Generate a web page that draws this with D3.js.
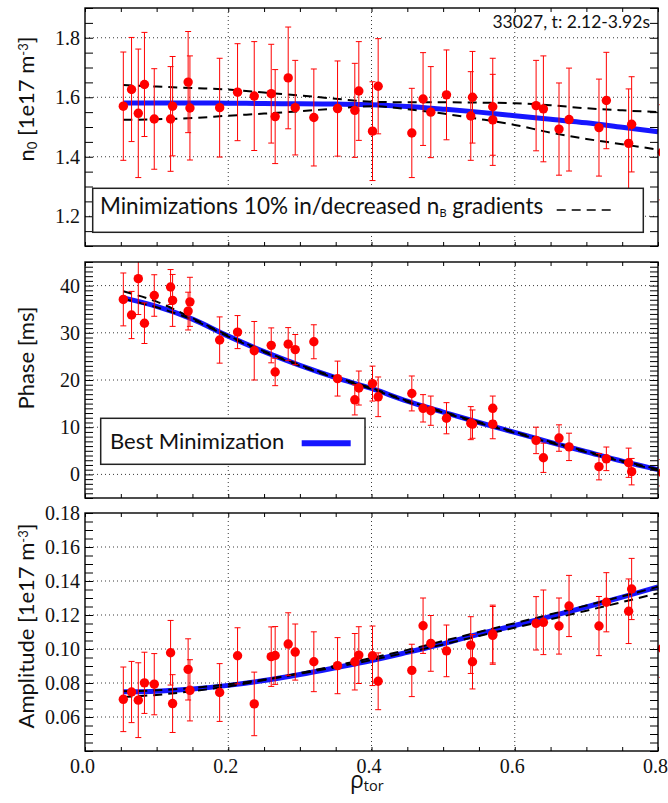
<!DOCTYPE html>
<html>
<head>
<meta charset="utf-8">
<script src="https://cdn.jsdelivr.net/npm/d3@7"></script>
<style>
  html, body { margin: 0; padding: 0; background: #fff; }
  svg { display: block; }
</style>
</head>
<body>
<svg id="chart" width="668" height="803"></svg>
<script>
// Radial positions of the measurement channels (rho_tor)
const rho = [0.0535, 0.065, 0.0744, 0.083, 0.0967, 0.1195, 0.1223, 0.144, 0.1465, 0.188,
             0.213, 0.2363, 0.26, 0.2655, 0.2837, 0.2935, 0.3195, 0.3526, 0.3767, 0.3823,
             0.4014, 0.4093, 0.4563, 0.472, 0.4828, 0.5047, 0.5386, 0.541, 0.5693, 0.5693,
             0.6298, 0.640, 0.6618, 0.6758, 0.7176, 0.7279, 0.759, 0.7632, 0.806];

// Background density n0 [1e17 m^-3] and its uncertainty
const n0 = [1.570, 1.626, 1.546, 1.643, 1.527, 1.527, 1.570, 1.651, 1.564, 1.565,
            1.617, 1.604, 1.612, 1.535, 1.665, 1.565, 1.532, 1.562, 1.556, 1.621,
            1.486, 1.637, 1.480, 1.594, 1.550, 1.608, 1.537, 1.600, 1.568, 1.524,
            1.572, 1.561, 1.493, 1.525, 1.498, 1.589, 1.445, 1.509, 1.415];
const n0Err = [0.182, 0.175, 0.216, 0.175, 0.169, 0.176, 0.167, 0.170, 0.175, 0.166,
               0.163, 0.183, 0.166, 0.158, 0.171, 0.159, 0.163, 0.160, 0.158, 0.166,
               0.166, 0.160, 0.150, 0.156, 0.153, 0.151, 0.149, 0.154, 0.163, 0.153,
               0.152, 0.178, 0.155, 0.173, 0.163, 0.162, 0.183, 0.160, 0.160];

// Phase [ms] and its uncertainty
const phase = [37.07, 33.77, 41.47, 32.03, 37.9, 39.7, 36.86, 34.6, 36.56, 28.47,
               30.15, 26.2, 27.34, 21.7, 27.6, 26.44, 28.1, 20.3, 15.8, 18.3,
               19.24, 16.44, 17.15, 14.0, 13.5, 11.9, 10.86, 10.65, 14.0, 10.65,
               7.2, 3.52, 7.7, 5.83, 1.64, 3.3, 2.47, 0.58, 0.35];
const phaseErr = [5.6, 5.0, 7.6, 4.3, 4.4, 3.7, 5.5, 4.0, 5.2, 4.9,
                  3.5, 6.2, 3.7, 2.9, 3.5, 3.2, 3.6, 3.7, 3.2, 3.6,
                  3.7, 4.2, 3.7, 2.9, 3.1, 3.3, 3.5, 3.0, 2.6, 3.1,
                  2.8, 3.1, 2.8, 2.9, 2.8, 2.5, 3.1, 2.8, 2.8];

// Perturbation amplitude [1e17 m^-3] and its uncertainty
const amp = [0.0704, 0.0747, 0.0699, 0.0801, 0.0793, 0.0978, 0.0679, 0.0880, 0.0757, 0.0744,
             0.0960, 0.0677, 0.0955, 0.0962, 0.1029, 0.0982, 0.0925, 0.0902, 0.0925, 0.0964,
             0.0960, 0.0810, 0.0874, 0.1137, 0.1033, 0.0989, 0.1023, 0.0925, 0.1088, 0.1080,
             0.1151, 0.1157, 0.1135, 0.1253, 0.1135, 0.1275, 0.1222, 0.1353, 0.1003];
const ampErr = [0.019, 0.018, 0.022, 0.018, 0.018, 0.019, 0.017, 0.018, 0.018, 0.017,
                0.0165, 0.0187, 0.0175, 0.017, 0.0184, 0.0165, 0.0176, 0.0165, 0.0166, 0.0167,
                0.0175, 0.0167, 0.0154, 0.0163, 0.0164, 0.0152, 0.0167, 0.016, 0.017, 0.017,
                0.0157, 0.019, 0.0165, 0.018, 0.0174, 0.0174, 0.019, 0.018, 0.017];

// Minimization results on a common rho grid
const fitRho = [0.0535, 0.1, 0.15, 0.2, 0.25, 0.3, 0.35, 0.4, 0.45, 0.5, 0.55, 0.6, 0.65, 0.7, 0.75, 0.8];
const n0Best   = [1.581, 1.581, 1.581, 1.580, 1.579, 1.578, 1.577, 1.575, 1.569, 1.560, 1.550, 1.538, 1.526, 1.514, 1.499, 1.484];
const n0Plus   = [1.641, 1.636, 1.631, 1.626, 1.616, 1.606, 1.595, 1.585, 1.583, 1.583, 1.582, 1.580, 1.573, 1.563, 1.556, 1.550];
const n0Minus  = [1.524, 1.526, 1.530, 1.538, 1.545, 1.553, 1.562, 1.570, 1.560, 1.545, 1.527, 1.507, 1.481, 1.460, 1.442, 1.424];
const phaseBest  = [37.4, 35.6, 32.9, 29.3, 26.0, 23.1, 20.5, 18.2, 15.5, 13.2, 11.0, 8.9, 6.8, 4.8, 2.8, 1.0];
const phasePlus  = [38.8, 36.6, 33.1, 29.4, 26.1, 23.2, 20.6, 18.3, 15.6, 13.3, 11.1, 9.0, 6.9, 4.9, 2.9, 1.1];
const phaseMinus = [37.2, 35.4, 32.8, 29.2, 25.9, 23.0, 20.4, 18.1, 15.4, 13.1, 10.9, 8.8, 6.7, 4.7, 2.7, 0.9];
const ampBest  = [0.0748, 0.0752, 0.0765, 0.0786, 0.0815, 0.0850, 0.0890, 0.0932, 0.0980, 0.1030, 0.1088, 0.1138, 0.1192, 0.1247, 0.1305, 0.1366];
const ampPlus  = [0.0718, 0.0730, 0.0752, 0.0780, 0.0817, 0.0858, 0.0902, 0.0947, 0.0995, 0.1047, 0.1100, 0.1152, 0.1204, 0.1256, 0.1310, 0.1366];
const ampMinus = [0.0752, 0.0757, 0.0771, 0.0792, 0.0820, 0.0855, 0.0893, 0.0935, 0.0980, 0.1027, 0.1077, 0.1125, 0.1175, 0.1225, 0.1276, 0.1328];

// Tick values
const xMinorTicks = d3.range(17).map(i => +(i * 0.05).toFixed(2));
const xLabelTicks = [0.0, 0.2, 0.4, 0.6, 0.8];
const xGridTicks  = [0.2, 0.4, 0.6];
const n0Ticks    = [1.2, 1.4, 1.6, 1.8];
const phaseTicks = [0, 10, 20, 30, 40];
const ampTicks   = [0.06, 0.08, 0.10, 0.12, 0.14, 0.16, 0.18];

const svg = d3.select("#chart");
const serif = "'Liberation Serif', 'Times New Roman', Times, serif";
const sans = "Lato, 'Open Sans', 'DejaVu Sans', sans-serif";
const BLUE = "#1616ff";
const RED = "#ff0000";

const x = d3.scaleLinear().domain([0, 0.8]).range([85, 658]);

const panels = [
  { id: "n0", top: 8, bottom: 246, domain: [1.1, 1.9],
    minor: d3.range(17).map(i => +(1.1 + i * 0.05).toFixed(2)),
    major: n0Ticks, fmt: d3.format(".1f"),
    vals: n0, errs: n0Err, best: n0Best, alts: [n0Plus, n0Minus] },
  { id: "phase", top: 262, bottom: 498, domain: [-5, 45],
    minor: d3.range(51).map(i => i - 5),
    major: phaseTicks, fmt: d3.format("d"),
    vals: phase, errs: phaseErr, best: phaseBest, alts: [phasePlus, phaseMinus] },
  { id: "amp", top: 513, bottom: 751, domain: [0.04, 0.18],
    minor: d3.range(29).map(i => +(0.04 + i * 0.005).toFixed(3)),
    major: ampTicks, fmt: d3.format(".2f"),
    vals: amp, errs: ampErr, best: ampBest, alts: [ampPlus, ampMinus], xLabels: true }
];

panels.forEach(p => {
  const y = d3.scaleLinear().domain(p.domain).range([p.bottom, p.top]);
  const g = svg.append("g").attr("class", "panel-" + p.id);

  g.append("clipPath").attr("id", "clip-" + p.id)
    .append("rect").attr("x", 85).attr("y", p.top)
    .attr("width", 575).attr("height", p.bottom - p.top);

  // dotted grid
  const grid = g.append("g").attr("stroke", "#3a3a3a").attr("stroke-width", 1)
    .attr("stroke-dasharray", "1,3");
  grid.selectAll("line.h").data(p.major.filter(v => y(v) > p.top + 1 && y(v) < p.bottom - 1))
    .join("line").attr("class", "h")
    .attr("x1", 85).attr("x2", 658).attr("y1", d => y(d)).attr("y2", d => y(d));
  grid.selectAll("line.v").data(xGridTicks).join("line").attr("class", "v")
    .attr("x1", d => x(d)).attr("x2", d => x(d)).attr("y1", p.top).attr("y2", p.bottom);

  const plot = g.append("g").attr("clip-path", `url(#clip-${p.id})`);

  // minimization curves
  const line = d3.line().x(d => x(d[0])).y(d => y(d[1])).curve(d3.curveMonotoneX);
  plot.append("path").datum(fitRho.map((r, i) => [r, p.best[i]]))
    .attr("d", line).attr("fill", "none").attr("stroke", BLUE).attr("stroke-width", 5);
  p.alts.forEach(a => {
    plot.append("path").datum(fitRho.map((r, i) => [r, a[i]]))
      .attr("d", line).attr("fill", "none").attr("stroke", "#000")
      .attr("stroke-width", 2).attr("stroke-dasharray", "9,6");
  });

  // error bars
  const eb = plot.append("g").attr("stroke", RED).attr("stroke-width", 1);
  const idx = d3.range(rho.length);
  eb.selectAll("line.bar").data(idx).join("line").attr("class", "bar")
    .attr("x1", i => x(rho[i])).attr("x2", i => x(rho[i]))
    .attr("y1", i => y(p.vals[i] - p.errs[i])).attr("y2", i => y(p.vals[i] + p.errs[i]));
  [-1, 1].forEach(s => {
    eb.selectAll("line.cap" + (s > 0 ? "u" : "d")).data(idx).join("line")
      .attr("class", "cap" + (s > 0 ? "u" : "d"))
      .attr("x1", i => x(rho[i]) - 3).attr("x2", i => x(rho[i]) + 3)
      .attr("y1", i => y(p.vals[i] + s * p.errs[i])).attr("y2", i => y(p.vals[i] + s * p.errs[i]));
  });

  // data points
  plot.selectAll("circle").data(idx).join("circle")
    .attr("cx", i => x(rho[i])).attr("cy", i => y(p.vals[i])).attr("r", 4.7).attr("fill", RED);

  // axes with inward ticks on all four sides
  const isMajor = d => p.major.some(m => Math.abs(m - d) < 1e-9);
  const left = g.append("g").attr("transform", "translate(85,0)")
    .call(d3.axisLeft(y).tickValues(p.minor).tickSizeInner(-8).tickSizeOuter(0)
      .tickPadding(5).tickFormat(d => isMajor(d) ? p.fmt(d) : ""));
  const right = g.append("g").attr("transform", "translate(658,0)")
    .call(d3.axisRight(y).tickValues(p.minor).tickSizeInner(-8).tickSizeOuter(0).tickFormat(""));
  const topAx = g.append("g").attr("transform", `translate(0,${p.top})`)
    .call(d3.axisTop(x).tickValues(xMinorTicks).tickSizeInner(-4).tickSizeOuter(0).tickFormat(""));
  const botAx = g.append("g").attr("transform", `translate(0,${p.bottom})`)
    .call(d3.axisBottom(x).tickValues(xMinorTicks).tickSizeInner(-4).tickSizeOuter(0).tickPadding(8)
      .tickFormat(d => p.xLabels && xLabelTicks.some(m => Math.abs(m - d) < 1e-9) ? d3.format(".1f")(d) : ""));
  [left, right, topAx, botAx].forEach(a => {
    a.select(".domain").remove();
    a.attr("font-family", serif).attr("font-size", 20);
    a.selectAll("line").attr("stroke", "#000");
    a.selectAll("text").style("font-family", serif).style("font-size", "20px").attr("fill", "#111");
  });
  botAx.selectAll("text").attr("dx", -3);

  // frame
  g.append("rect").attr("x", 85).attr("y", p.top).attr("width", 573).attr("height", p.bottom - p.top)
    .attr("fill", "none").attr("stroke", "#000").attr("stroke-width", 1.4);
});

// y-axis titles
function yTitle(cy, parts) {
  const t = svg.append("text").attr("transform", `translate(33.5,${cy}) rotate(-90)`)
    .attr("text-anchor", "middle").attr("font-family", sans).attr("font-size", 22).attr("fill", "#111");
  parts.forEach(pt => {
    const s = t.append("tspan").text(pt.t);
    if (pt.sub) s.attr("font-size", 13).attr("baseline-shift", "-25%");
    if (pt.sup) s.attr("font-size", 13).attr("baseline-shift", "45%");
  });
}
yTitle(99, [{t: "n"}, {t: "0", sub: true}, {t: " [1e17 m"}, {t: "-3", sup: true}, {t: "]"}]);
yTitle(358, [{t: "Phase [ms]"}]);
yTitle(626, [{t: "Amplitude [1e17 m"}, {t: "-3", sup: true}, {t: "]"}]);

// x-axis title
const xt = svg.append("text").attr("x", 350).attr("y", 788)
  .attr("font-family", "'Open Sans', 'DejaVu Sans', sans-serif").attr("fill", "#111");
xt.append("tspan").attr("font-size", 23).text("ρ");
xt.append("tspan").attr("font-size", 14.5).attr("dy", 3).text("tor");

// shot annotation
svg.append("text").attr("x", 650).attr("y", 28).attr("text-anchor", "end")
  .attr("font-family", sans).attr("font-size", 17.5).attr("fill", "#111")
  .text("33027, t: 2.12-3.92s");

// legend of the top panel
const lg1 = svg.append("g");
lg1.append("rect").attr("x", 92.7).attr("y", 188.3).attr("width", 550.6).attr("height", 44)
  .attr("fill", "#fff").attr("stroke", "#222").attr("stroke-width", 1.5);
const lt1 = lg1.append("text").attr("x", 100).attr("y", 213.5)
  .attr("font-family", sans).attr("font-size", 22.5).attr("fill", "#111");
lt1.append("tspan").text("Minimizations 10% in/decreased  n");
lt1.append("tspan").attr("font-size", 11).attr("dy", 3).text("B");
lt1.append("tspan").attr("dy", -3).text(" gradients");
lg1.append("line").attr("x1", 556.7).attr("x2", 615).attr("y1", 210).attr("y2", 210)
  .attr("stroke", "#000").attr("stroke-width", 1.5).attr("stroke-dasharray", "9,6");

// legend of the middle panel
const lg2 = svg.append("g");
lg2.append("rect").attr("x", 100.7).attr("y", 418.3).attr("width", 264.3).attr("height", 46)
  .attr("fill", "#fff").attr("stroke", "#222").attr("stroke-width", 1.5);
lg2.append("text").attr("x", 110).attr("y", 448.5)
  .attr("font-family", sans).attr("font-size", 22).attr("fill", "#111")
  .text("Best Minimization");
lg2.append("line").attr("x1", 301.7).attr("x2", 350.7).attr("y1", 443.3).attr("y2", 443.3)
  .attr("stroke", BLUE).attr("stroke-width", 6);
</script>
</body>
</html>
